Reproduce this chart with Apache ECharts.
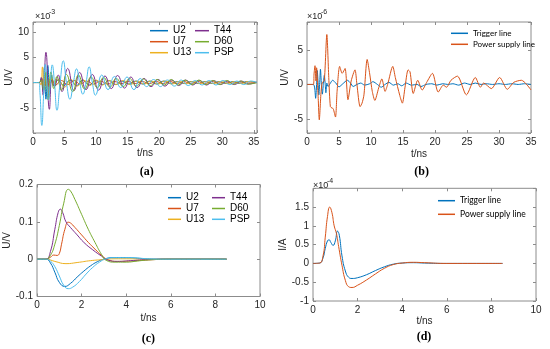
<!DOCTYPE html>
<html><head><meta charset="utf-8">
<script src="https://cdn.jsdelivr.net/npm/echarts@6/dist/echarts.min.js"></script>
<style>html,body{margin:0;padding:0;background:#fff}#c{width:550px;height:349px}</style>
</head><body><div id="c"></div>
<script>
// ---------- DATA ----------
const namesAC = ['U2','U7','U13','T44','D60','PSP'];
const namesBD = ['Trigger line','Power supply line'];
const colorsAC = ['#0072BD','#D95319','#EDB120','#7E2F8E','#77AC30','#4DBEEE'];
const colorsBD = ['#0072BD','#D95319'];

// (a) U/V x1e-3 vs t/ns
const a_U2 = [[0,0],[1.0,0],[1.3,0.8],[1.55,-1.5],[1.8,3.0],[2.05,-3.3],[2.35,3.4],[2.65,-2.4],[2.95,1.5],[3.3,-0.6],[4.0,0.5],[4.9,-0.6],[5.9,0.5],[6.9,-0.6],[7.9,0.5],[8.9,-0.5],[9.9,0.4],[11.0,-0.4],[12.0,0.4],[13.1,-0.4],[14.1,0.3],[15.2,-0.3],[16.3,0.3],[17.4,-0.3],[18.5,0.3],[19.6,-0.3],[20.7,0.3],[21.8,-0.2],[22.9,0.2],[24.0,-0.2],[25.1,0.2],[26.2,-0.2],[27.3,0.2],[28.4,-0.2],[29.5,0.2],[30.6,-0.2],[31.7,0.2],[32.8,-0.2],[33.9,0.2],[35.5,0]];
const a_U7 = [[0,0],[1.0,0],[1.4,0.8],[1.8,-0.8],[2.2,1.0],[2.6,-0.9],[3.0,0.7],[3.6,-0.5],[4.5,0.4],[5.5,-0.4],[6.5,0.4],[7.5,-0.3],[8.5,0.3],[9.6,-0.3],[10.7,0.3],[11.8,-0.3],[12.9,0.2],[14.0,-0.2],[15.1,0.2],[16.2,-0.2],[17.3,0.2],[18.4,-0.2],[19.5,0.2],[20.6,-0.2],[21.7,0.2],[22.8,-0.2],[23.9,0.2],[25.0,-0.2],[26.1,0.2],[27.2,-0.2],[28.3,0.2],[29.4,-0.1],[30.5,0.1],[31.6,-0.1],[32.7,0.1],[33.8,-0.1],[35.5,0]];
const a_U13 = [[0,0],[1.0,0],[1.25,-0.5],[1.5,3.1],[1.75,-1.0],[2.05,2.0],[2.45,-3.3],[2.85,1.0],[3.3,-0.5],[4.0,0.6],[5.0,-0.9],[6.0,0.6],[7.0,-0.7],[8.0,0.5],[9.0,-0.6],[10.0,0.5],[11.0,-0.5],[12.1,0.4],[13.2,-0.4],[14.3,0.4],[15.4,-0.4],[16.5,0.3],[17.6,-0.3],[18.7,0.3],[19.8,-0.3],[20.9,0.3],[22.0,-0.3],[23.1,0.2],[24.2,-0.2],[25.3,0.2],[26.4,-0.2],[27.5,0.2],[28.6,-0.2],[29.7,0.2],[30.8,-0.2],[31.9,0.2],[33.0,-0.2],[34.1,0.2],[35.5,0]];
const a_T44 = [[0,0],[1.0,0],[1.3,1.0],[1.6,-2.5],[2.05,6.0],[2.6,-5.3],[3.0,0.5],[3.4,-0.8],[4.0,1.5],[4.6,-1.8],[5.5,2.8],[6.5,-1.6],[7.4,2.0],[8.4,-1.4],[9.4,1.6],[10.4,-1.5],[11.4,1.3],[12.4,-1.2],[13.4,1.4],[14.5,-1.1],[15.5,1.1],[16.5,-1.0],[17.6,0.8],[18.7,-0.8],[19.8,0.6],[20.9,-0.7],[22.0,0.5],[23.1,-0.6],[24.2,0.5],[25.3,-0.5],[26.4,0.4],[27.5,-0.5],[28.6,0.4],[29.7,-0.4],[30.8,0.3],[31.9,-0.4],[33.0,0.3],[34.1,-0.3],[35.5,0.1]];
const a_D60 = [[0,0],[1.0,0],[1.3,0.5],[1.7,-1.5],[2.05,2.0],[2.4,-3.4],[2.85,2.1],[3.3,-1.2],[3.8,1.2],[4.5,-1.5],[5.3,1.6],[6.3,-1.8],[7.2,1.5],[8.2,-1.3],[9.2,1.1],[10.2,-1.0],[11.2,1.0],[12.2,-0.9],[13.2,0.8],[14.3,-0.8],[15.3,0.8],[16.4,-0.7],[17.5,0.7],[18.6,-0.6],[19.7,0.6],[20.8,-0.5],[21.9,0.6],[23.0,-0.5],[24.1,0.5],[25.2,-0.4],[26.3,0.5],[27.4,-0.4],[28.5,0.4],[29.6,-0.4],[30.7,0.4],[31.8,-0.3],[32.9,0.3],[34.0,-0.3],[35.5,0]];
const a_PSP = [[0,0],[0.9,0],[1.1,-2],[1.4,-8.5],[1.7,-2],[1.95,3.6],[2.2,0],[2.45,-3.4],[2.75,0],[3.05,3.5],[3.4,0],[3.8,-5.5],[4.3,0],[4.8,4.3],[5.3,0],[5.85,-3.3],[6.4,0],[6.9,2.7],[7.4,0],[7.9,-2.3],[8.4,0],[8.9,3.1],[9.4,0],[9.9,-2.5],[10.9,1.5],[11.9,-1.4],[12.9,1.2],[13.9,-1.0],[14.9,1.1],[16.0,-1.4],[17.0,0.8],[18.0,-0.8],[19.1,0.6],[20.2,-0.8],[21.3,0.5],[22.4,-0.7],[23.5,0.5],[24.6,-0.6],[25.7,0.4],[26.8,-0.5],[27.9,0.4],[29.0,-0.5],[30.1,0.4],[31.2,-0.4],[32.3,0.3],[33.4,-0.4],[34.5,0.3],[35.5,0]];

// (b) U/V x1e-6 vs t/ns
const b_Trigger = [[0,0],[1.0,0],[1.2,-0.5],[1.35,-2.0],[1.5,0],[1.6,2.0],[1.75,0],[1.85,-1.5],[2.0,0.5],[2.1,2.2],[2.25,0],[2.4,-1.4],[2.55,0],[2.7,1.3],[2.85,0],[2.95,-1.2],[3.1,0.2],[3.3,-0.3],[3.6,0.1],[4.0,0.6],[4.5,0.2],[5.0,-0.35],[5.6,0.1],[6.3,0.6],[6.8,0.2],[7.2,-0.3],[7.8,0],[8.4,0.2],[9.0,-0.1],[9.8,0.1],[10.3,0.4],[11.0,0],[11.6,-0.4],[12.2,0],[12.8,0.3],[13.5,-0.1],[14.2,0.1],[14.8,-0.2],[15.5,0.2],[16.3,-0.1],[17.2,0],[17.8,-0.3],[18.6,0],[19.5,0.1],[20.3,-0.1],[21.2,0.1],[22.0,0],[22.8,0.1],[23.7,-0.1],[24.6,0.2],[25.5,0],[26.3,0.2],[27.2,0],[28.0,0.1],[29.0,0],[30.0,0.1],[31.0,0],[32.0,0.1],[33.0,0],[34.0,0.1],[35.0,0]];
const b_Power = [[0,0],[1.0,0],[1.1,1.5],[1.25,2.7],[1.4,0.5],[1.5,2.4],[1.75,-2],[1.92,-5.1],[2.2,-1],[2.4,0.3],[2.7,0.5],[3.1,7.2],[3.4,1],[3.65,-3.2],[3.9,-3.4],[4.1,-3.5],[4.45,-4.7],[4.7,-1],[5.1,2.6],[5.5,1.6],[5.95,2.3],[6.4,-2.2],[6.9,0.5],[7.5,2.1],[7.8,0],[8.3,-3.2],[8.6,-2.7],[8.9,-1.5],[9.4,3.6],[9.8,1.5],[10.2,-1],[10.6,-2.3],[11.2,-0.5],[11.7,0.8],[12.2,-1.0],[12.6,0],[13.4,2.6],[13.8,1.0],[14.5,-1.6],[14.9,-2.7],[15.3,-0.5],[15.8,2.1],[16.1,1.8],[16.6,-1.3],[17.3,0.6],[18.0,-0.8],[18.7,0.3],[19.6,1.6],[20.5,-1.1],[21.3,-0.1],[21.8,-0.4],[22.5,0.6],[23.5,1.2],[24.9,-1.5],[26.3,1.0],[27.1,-0.4],[27.6,0.2],[28.8,-0.6],[30.1,1.0],[31.3,-0.7],[32.3,0.3],[33.5,0.6],[35.0,-0.8]];

// (c) U/V vs t/ns
const c_U2 = [[0,0],[0.4,0],[0.6,-0.01],[0.8,-0.035],[1.0,-0.062],[1.25,-0.073],[1.5,-0.065],[1.8,-0.048],[2.1,-0.032],[2.4,-0.018],[2.7,-0.007],[3.0,0.0],[3.4,0.004],[4.0,0.004],[4.6,0.002],[5.5,0],[8.5,0]];
const c_U7 = [[0,0],[0.4,0],[0.6,0.005],[0.75,0.011],[0.9,0.01],[1.0,0.015],[1.1,0.04],[1.25,0.08],[1.4,0.099],[1.5,0.097],[1.7,0.085],[2.0,0.065],[2.3,0.045],[2.6,0.027],[2.9,0.01],[3.2,-0.002],[3.6,-0.006],[4.2,-0.005],[5.0,-0.002],[6.0,0],[8.5,0]];
const c_U13 = [[0,0],[0.4,0],[0.8,-0.006],[1.3,-0.012],[1.8,-0.009],[2.4,-0.004],[3.0,-0.001],[3.5,0.001],[4.0,0.001],[5.0,0],[8.5,0]];
const c_T44 = [[0,0],[0.4,0],[0.6,0.02],[0.8,0.08],[0.95,0.125],[1.05,0.134],[1.15,0.125],[1.3,0.1],[1.5,0.085],[1.8,0.065],[2.1,0.045],[2.5,0.025],[2.9,0.008],[3.2,-0.003],[3.6,-0.006],[4.2,-0.004],[5.0,-0.001],[6.0,0],[8.5,0]];
const c_D60 = [[0,0],[0.4,0],[0.6,0.01],[0.8,0.04],[1.0,0.09],[1.2,0.15],[1.4,0.187],[1.5,0.183],[1.7,0.16],[2.0,0.12],[2.3,0.08],[2.6,0.045],[2.9,0.012],[3.1,-0.003],[3.5,-0.008],[4.0,-0.008],[4.5,-0.005],[5.0,-0.002],[6.0,0],[8.5,0]];
const c_PSP = [[0,0],[0.4,0],[0.6,-0.005],[0.8,-0.02],[1.0,-0.045],[1.2,-0.07],[1.4,-0.079],[1.6,-0.075],[1.9,-0.06],[2.2,-0.04],[2.5,-0.022],[2.8,-0.008],[3.1,0.001],[3.5,0.004],[4.2,0.004],[5.0,0.001],[6.0,0],[8.5,0]];

// (d) I/A x1e-4 vs t/ns
const d_Trigger = [[0,0],[0.3,0.01],[0.45,0.15],[0.55,0.4],[0.65,0.6],[0.72,0.63],[0.8,0.56],[0.9,0.48],[1.0,0.6],[1.1,0.86],[1.18,0.75],[1.3,0.2],[1.45,-0.2],[1.6,-0.37],[1.75,-0.4],[2.0,-0.38],[2.4,-0.3],[2.8,-0.19],[3.2,-0.09],[3.6,-0.02],[4.0,0.01],[4.5,0.02],[5.0,0.01],[6.0,0],[8.5,0]];
const d_Power = [[0,0],[0.3,0.01],[0.45,0.2],[0.55,0.7],[0.65,1.25],[0.75,1.5],[0.85,1.35],[0.95,1.0],[1.05,0.8],[1.15,0.45],[1.3,-0.05],[1.45,-0.45],[1.6,-0.62],[1.75,-0.64],[2.0,-0.58],[2.4,-0.44],[2.8,-0.28],[3.2,-0.13],[3.6,-0.03],[4.0,0.01],[4.5,0.03],[5.0,0.02],[6.0,0],[8.5,0]];

// ---------- CHART ----------
const FRAME = '#8c8c8c', TXT = '#262626';
const chart = echarts.init(document.getElementById('c'), null, {renderer:'canvas'});

const grids = [
  {left:33, top:22, width:224, height:111},
  {left:307, top:22, width:224, height:111},
  {left:37, top:184.5, width:223, height:112},
  {left:313, top:188.3, width:223, height:112.7}
];

const tickStyle = {inside:true,length:3,lineStyle:{color:FRAME}};
function xMain(gi, min, max, interval, nameGap){
  return {type:'value', gridIndex:gi, min, max, interval, position:'bottom',
    name:'t/ns', nameLocation:'middle', nameGap, nameTextStyle:{fontSize:10,color:TXT,fontFamily:'Liberation Sans'},
    axisLine:{show:false, onZero:false}, splitLine:{show:false}, axisTick:tickStyle,
    axisLabel:{fontSize:10,color:TXT,margin:4,fontFamily:'Liberation Sans',
      formatter:v=> (Math.abs(v/interval-Math.round(v/interval))<1e-6 ? String(v) : '')}};
}
function xTop(gi, min, max, interval){
  return {type:'value', gridIndex:gi, min, max, interval, position:'top',
    axisLine:{show:false, onZero:false}, splitLine:{show:false}, axisLabel:{show:false}, axisTick:tickStyle};
}
function yMain(gi, cfg, name, nameGap, shown){
  return Object.assign({type:'value', gridIndex:gi, position:'left',
    name, nameLocation:'middle', nameGap, nameTextStyle:{fontSize:10,color:TXT,fontFamily:'Liberation Sans'},
    axisLine:{show:false, onZero:false}, splitLine:{show:false}, axisTick:tickStyle,
    axisLabel:{fontSize:10,color:TXT,margin:4,fontFamily:'Liberation Sans',
      formatter:v=> (shown.some(s=>Math.abs(s-v)<1e-9) ? String(v) : '')}}, cfg);
}
function yRight(gi, cfg){
  return Object.assign({type:'value', gridIndex:gi, position:'right',
    axisLine:{show:false, onZero:false}, splitLine:{show:false}, axisLabel:{show:false}, axisTick:tickStyle}, cfg);
}

const yCfgA = {min:-10, max:12, interval:5};
const yCfgB = {min:-7, max:9, splitNumber:3};
const yCfgC = {min:-0.1, max:0.2, interval:0.1};
const yCfgD = {min:-1, max:2, interval:0.5};

const xAxes = [
  xMain(0,0,35.5,5,15), xMain(1,0,35,5,16), xMain(2,0,10,2,17), xMain(3,0,10,2,15),
  xTop(0,0,35.5,5), xTop(1,0,35,5), xTop(2,0,10,2), xTop(3,0,10,2)
];
const yAxes = [
  yMain(0,yCfgA,'U/V',13,[-5,0,5,10]),
  yMain(1,yCfgB,'U/V',13,[-5,0,5]),
  yMain(2,yCfgC,'U/V',19,[-0.1,0,0.1,0.2]),
  yMain(3,yCfgD,'I/A',21,[-1,-0.5,0,0.5,1,1.5]),
  yRight(0,yCfgA), yRight(1,yCfgB), yRight(2,yCfgC), yRight(3,yCfgD)
];

const dataA = [a_U2,a_U7,a_U13,a_T44,a_D60,a_PSP];
const dataC = [c_U2,c_U7,c_U13,c_T44,c_D60,c_PSP];
const dataB = [b_Trigger,b_Power];
const dataD = [d_Trigger,d_Power];

const series = [];
function addSeries(names, colors, datas, gi, smooth){
  names.forEach((n,i)=>series.push({type:'line', name:n, xAxisIndex:gi, yAxisIndex:gi,
    data:datas[i], symbol:'none', smooth, animation:false,
    lineStyle:{width:1,color:colors[i]}, itemStyle:{color:colors[i]}}));
}
addSeries(namesAC, colorsAC, dataA, 0, 0.5);
addSeries(namesBD, colorsBD, dataB, 1, 0.25);
addSeries(namesAC, colorsAC, dataC, 2, 0.5);
addSeries(namesBD, colorsBD, dataD, 3, 0.5);

function legend(data, left, top, w, lh, gap, fs, ff){
  return {data, left, top, orient:'vertical', icon:'rect', itemWidth:w, itemHeight:1.5, itemGap:gap,
    padding:0, selectedMode:false,
    textStyle:{fontSize:fs, color:'#000', fontFamily:ff, lineHeight:lh, height:lh}};
}
const legends = [
  legend(['U2','U7','U13'],150,25.2,18,11,0,10,'Liberation Sans'),
  legend(['T44','D60','PSP'],195,25.2,14,11,0,10,'Liberation Sans'),
  legend(['Trigger line','Power supply line'],451,27.8,17,11,0,8,'Lato'),
  legend(['U2','U7','U13'],168,192.3,13,10.8,0,10,'Liberation Sans'),
  legend(['T44','D60','PSP'],212,192.3,13,10.8,0,10,'Liberation Sans'),
  legend(['Trigger line','Power supply line'],438,195.7,17,10,3.6,8.5,'Lato')
];

function expo(x, y, e){
  return [
    {type:'text', left:x, top:y, style:{text:'\u00d710', fontSize:9, fill:TXT, fontFamily:'Liberation Sans'}},
    {type:'text', left:x+14, top:y-3, style:{text:e, fontSize:7, fill:TXT, fontFamily:'Liberation Sans'}}
  ];
}
function caption(t, x, y){
  return {type:'text', x, y, style:{text:t, fontSize:12, fontWeight:'bold', fill:'#000',
    fontFamily:'Liberation Serif', align:'center', verticalAlign:'middle'}};
}
const graphic = [].concat(
  expo(35,12,'-3'), expo(307,12,'-6'), expo(313,181,'-4'),
  [caption('(a)',146.7,171.7), caption('(b)',421.7,171.7), caption('(c)',148.3,339), caption('(d)',424,337.3)]
);

chart.setOption({
  backgroundColor:'#fff', animation:false,
  grid: grids.map(g=>Object.assign({show:true, borderColor:FRAME, borderWidth:1, backgroundColor:'transparent', containLabel:false}, g)),
  xAxis:xAxes, yAxis:yAxes, series, legend:legends, graphic
});
</script></body></html>
